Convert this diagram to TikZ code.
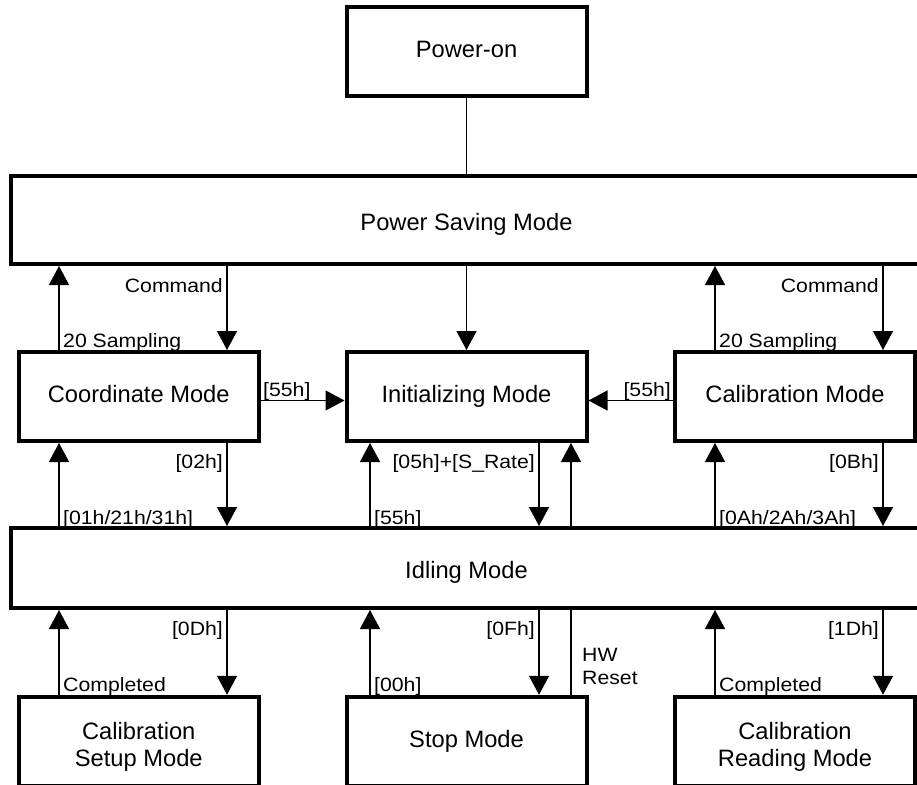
\documentclass[tikz,border=0pt]{standalone}
\usepackage{fontspec}
\setmainfont{Liberation Sans}
\newfontfamily\lblfont[FakeStretch=1.1]{Liberation Sans}
\usetikzlibrary{arrows.meta}

% two-line box caption, baseline on its last line
\newcommand\twolines[2]{\begin{tabular}[b]{@{}c@{}}#1\\#2\end{tabular}}

\begin{document}
\begin{tikzpicture}[x=1pt, y=-1pt,
  mode/.style={draw, line width=4pt, fill=white, inner sep=0pt,
    font=\fontsize{23.7}{27}\selectfont, align=center},
  narrow/.style={mode, minimum width=240pt, minimum height=89pt,
    text height=17.8pt, text depth=6.2pt},
  narrow2/.style={mode, minimum width=240pt, minimum height=89pt,
    text height=49.5pt, text depth=0pt},
  wide/.style={mode, minimum width=911pt, text height=20pt, text depth=0pt},
  conn/.style={line width=1.3pt},
  arr/.style={conn, -{Triangle[length=19pt, width=20pt]}},
  lbl/.style={font=\lblfont\fontsize{19.3}{23.3}\selectfont, inner sep=0pt}]

\useasboundingbox (0,0) rectangle (917,784);
\clip (0,0) rectangle (917,784);
\fill[white] (0,0) rectangle (917,784);

% state boxes
\node[narrow] (pon)    at (466.5, 51.5)   {Power-on};
\node[wide, minimum height=88pt] (psm) at (466.5, 220) {Power Saving Mode};
\node[narrow] (coord)  at (138.75, 396.5) {Coordinate Mode};
\node[narrow] (init)   at (466.5, 396.5)  {Initializing Mode};
\node[narrow] (calib)  at (795, 396.5)    {Calibration Mode};
\node[wide, minimum height=80pt] (idle) at (466.5, 568) {Idling Mode};
\node[narrow2] (csetup) at (138.75, 741.25) {\twolines{Calibration}{Setup Mode}};
\node[narrow] (stop)   at (466.5, 741.25) {Stop Mode};
\node[narrow2] (cread)  at (795, 741.25)   {\twolines{Calibration}{Reading Mode}};

% connector columns and rows
\coordinate (c0) at (466.5,0);
\coordinate (c1) at (59,0);
\coordinate (c2) at (227,0);
\coordinate (c3) at (370,0);
\coordinate (c4) at (539,0);
\coordinate (c5) at (571,0);
\coordinate (c6) at (715,0);
\coordinate (c7) at (883,0);
\coordinate (r1) at (0,400.5);

% power-on into power saving
\draw[conn] (pon.south) -- (psm.north -| c0);

% power saving <-> upper row
\draw[arr] (coord.north -| c1) -- (psm.south -| c1);
\draw[arr] (psm.south -| c2) -- (coord.north -| c2);
\draw[arr] (psm.south -| c0) -- (init.north -| c0);
\draw[arr] (calib.north -| c6) -- (psm.south -| c6);
\draw[arr] (psm.south -| c7) -- (calib.north -| c7);

% sideways into initializing
\draw[arr] (coord.east |- r1) -- (init.west |- r1);
\draw[arr] (calib.west |- r1) -- (init.east |- r1);

% upper row <-> idling
\draw[arr] (idle.north -| c1) -- (coord.south -| c1);
\draw[arr] (coord.south -| c2) -- (idle.north -| c2);
\draw[arr] (idle.north -| c3) -- (init.south -| c3);
\draw[arr] (init.south -| c4) -- (idle.north -| c4);
\draw[arr] (idle.north -| c6) -- (calib.south -| c6);
\draw[arr] (calib.south -| c7) -- (idle.north -| c7);

% hardware reset path from stop back to initializing
\draw[conn] (stop.north -| c5) -- (idle.south -| c5);
\draw[arr] (idle.north -| c5) -- (init.south -| c5);

% idling <-> lower row
\draw[arr] (csetup.north -| c1) -- (idle.south -| c1);
\draw[arr] (idle.south -| c2) -- (csetup.north -| c2);
\draw[arr] (stop.north -| c3) -- (idle.south -| c3);
\draw[arr] (idle.south -| c4) -- (stop.north -| c4);
\draw[arr] (cread.north -| c6) -- (idle.south -| c6);
\draw[arr] (idle.south -| c7) -- (cread.north -| c7);

% transition labels
\node[lbl, anchor=base east] (tCmdL)   at (223,292)   {Command};
\node[lbl, anchor=base west] (tSampL)  at (63,347.5)  {20 Sampling};
\node[lbl, anchor=base east] (tCmdR)   at (879,292)   {Command};
\node[lbl, anchor=base west] (tSampR)  at (719,347.5) {20 Sampling};
\node[lbl, anchor=base west] (t55L)    at (263,396)   {[55h]};
\node[lbl, anchor=base east] (t55R)    at (671,396)   {[55h]};
\node[lbl, anchor=base east] (t02)     at (223,468)   {[02h]};
\node[lbl, anchor=base west] (t01)     at (63,524)    {[01h/21h/31h]};
\node[lbl, anchor=base east] (t05)     at (535,468)   {[05h]+[S\_Rate]};
\node[lbl, anchor=base west] (t55M)    at (374,524)   {[55h]};
\node[lbl, anchor=base east] (t0B)     at (879,468)   {[0Bh]};
\node[lbl, anchor=base west] (t0A)     at (719,524)   {[0Ah/2Ah/3Ah]};
\node[lbl, anchor=base east] (t0D)     at (223,635)   {[0Dh]};
\node[lbl, anchor=base west] (tComplL) at (63,691)    {Completed};
\node[lbl, anchor=base west] (t00)     at (374,691)   {[00h]};
\node[lbl, anchor=base east] (t0F)     at (535,635)   {[0Fh]};
\node[lbl, anchor=north west, align=left] (tHW) at (582,647.9) {HW\\Reset};
\node[lbl, anchor=base west] (tComplR) at (719,691)   {Completed};
\node[lbl, anchor=base east] (t1D)     at (879,635)   {[1Dh]};

\end{tikzpicture}
\end{document}
